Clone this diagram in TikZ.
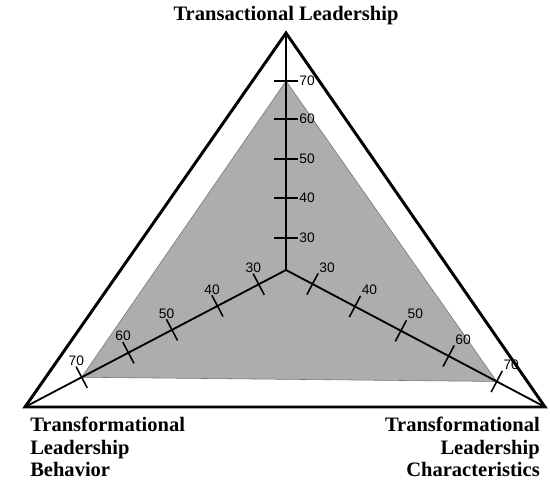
\documentclass[tikz,border=0pt]{standalone}
\usepackage{fontspec}
\setmainfont{Liberation Serif}
\newfontfamily\scorefont{Liberation Sans}
\usetikzlibrary{calc}
\tikzstyle{frame edge}=[-, draw=black, line width=2.1pt, line join=miter]
\tikzstyle{axis edge}=[-, draw=black, line width=1.3pt]
\tikzstyle{tick edge}=[-, draw=black, line width=1.1pt]
\tikzstyle{score area}=[fill=black!32, draw=black!55, line width=0.4pt]
\tikzstyle{title}=[font=\fontsize{14.6}{16}\selectfont\bfseries, inner sep=0pt]
\tikzstyle{score}=[font=\scorefont\fontsize{9.8}{11}\selectfont, inner sep=0.8pt]
\pgfdeclarelayer{arealayer}
\pgfdeclarelayer{edgelayer}
\pgfdeclarelayer{nodelayer}
\pgfsetlayers{arealayer,main,edgelayer,nodelayer}

\begin{document}
\begin{tikzpicture}
    	\useasboundingbox (-7.15,-5.3) rectangle (6.6,6.75);
    	\coordinate (c) at (0,0);
    	\coordinate (top) at (0,5.925);
    	\coordinate (left) at (-6.525,-3.425);
    	\coordinate (right) at (6.475,-3.425);
    	% score points on the three axes
    	\foreach \v/\d in {30/0.8, 40/1.8, 50/2.775, 60/3.775, 70/4.725}
    		\coordinate (t\v) at ($(c)!\d cm!(top)$);
    	\foreach \v/\d in {30/0.77, 40/1.935, 50/3.22, 60/4.45, 70/5.77}
    		\coordinate (l\v) at ($(c)!\d cm!(left)$);
    	\foreach \v/\d in {30/0.75, 40/1.95, 50/3.25, 60/4.6, 70/5.96}
    		\coordinate (r\v) at ($(c)!\d cm!(right)$);
    	\begin{pgfonlayer}{arealayer}
    		\filldraw [style=score area] (t70) -- (l70) -- (r70) -- cycle;
    	\end{pgfonlayer}
    	\begin{pgfonlayer}{edgelayer}
    		\draw [style=frame edge] (top) -- (left) -- (right) -- cycle;
    		\draw [style=axis edge] (c) -- (top);
    		\draw [style=axis edge] (c) -- (left);
    		\draw [style=axis edge] (c) -- (right);
    		\foreach \v in {30,40,50,60,70} {
    			\draw [style=tick edge] ($(t\v)!0.3cm!90:(top)$) -- ($(t\v)!0.3cm!-90:(top)$);
    			\draw [style=tick edge] ($(l\v)!0.3cm!90:(left)$) -- ($(l\v)!0.3cm!-90:(left)$);
    			\draw [style=tick edge] ($(r\v)!0.3cm!90:(right)$) -- ($(r\v)!0.3cm!-90:(right)$);
    		}
    	\end{pgfonlayer}
    	\begin{pgfonlayer}{nodelayer}
    		\foreach \v in {30,40,50,60,70} {
    			\node [style=score, anchor=west] (nt\v) at ($(t\v)+(0.3,0)$) {\v};
    			\node [style=score, anchor=south] (nl\v) at ($(l\v)!0.29cm!-90:(left)$) {\v};
    			\node [style=score, anchor=south west] (nr\v) at ($(r\v)!0.29cm!90:(right)$) {\v};
    		}
    		\node [style=title, anchor=base] (0) at (0,6.225) {Transactional Leadership};
    		\node [style=title, align=left, anchor=north west] (1) at (-6.4,-3.68) {Transformational\\Leadership\\Behavior};
    		\node [style=title, align=right, anchor=north east] (2) at (6.35,-3.68) {Transformational\\Leadership\\Characteristics};
    	\end{pgfonlayer}
\end{tikzpicture}
\end{document}
